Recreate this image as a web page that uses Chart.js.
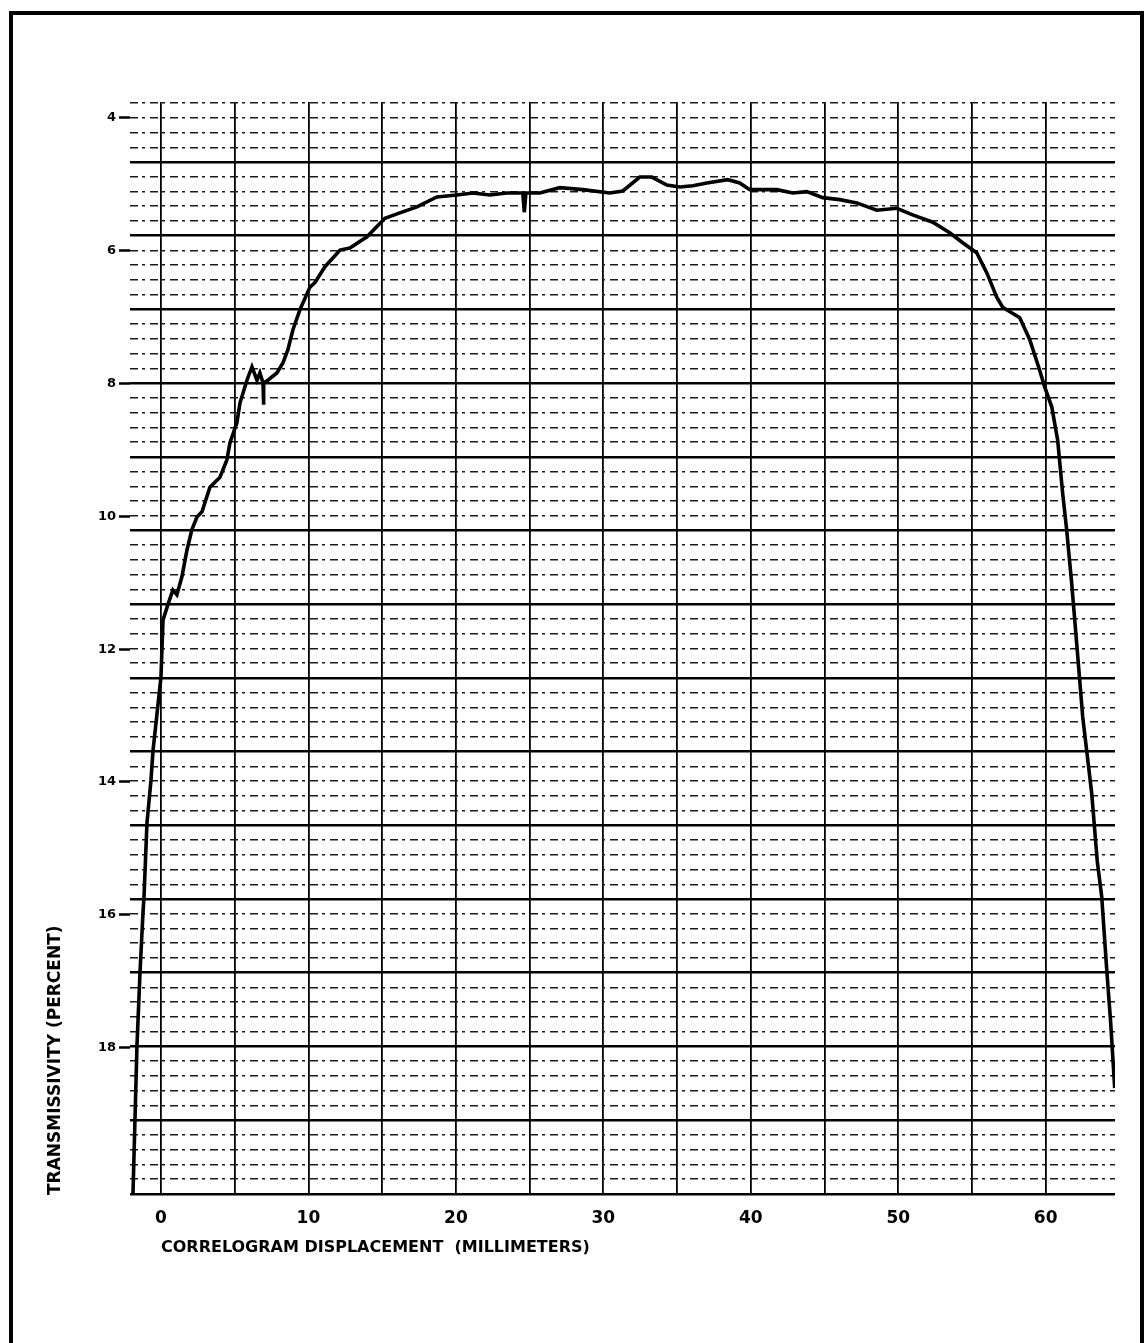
<!DOCTYPE html>
<html>
<head>
<meta charset="utf-8">
<script src="https://cdn.jsdelivr.net/npm/chart.js@4.4.1/dist/chart.umd.min.js"></script>
<style>
  html, body { margin: 0; padding: 0; background: #fff; overflow: hidden; }
  #wrap { position: relative; width: 1148px; height: 1343px; }
  #frame {
    position: absolute; left: 9px; top: 11px; width: 1127px; height: 1400px;
    border: 4px solid #000; pointer-events: none;
  }
</style>
</head>
<body>
<div id="wrap">
  <canvas id="graphTransmissivity"></canvas>
  <div id="frame"></div>
</div>
<script>
// recorder trace: displacement (mm) vs transmissivity (%)
var displacementMm = [
    -1.90, -1.63, -1.42, -1.22, -1.15, -0.95, -0.68, -0.54, 0.00, 0.07,
    0.14, 0.47, 0.81, 1.08, 1.42, 1.76, 2.10, 2.44, 2.78, 3.32,
    4.00, 4.47, 4.68, 5.15, 5.36, 5.83, 6.17, 6.51, 6.71, 6.92,
    6.95, 6.98, 7.25, 7.86, 8.27, 8.61, 8.95, 9.42, 10.10, 10.44,
    11.12, 11.66, 12.14, 12.81, 13.97, 15.19, 16.20, 17.36, 18.71, 20.07,
    21.15, 22.31, 23.46, 24.54, 24.64, 24.75, 25.69, 27.05, 28.61, 30.44,
    31.32, 32.47, 33.29, 34.31, 35.19, 36.07, 37.02, 38.44, 39.25, 39.93,
    41.76, 42.85, 43.80, 44.88, 46.03, 47.19, 48.54, 49.90, 50.98, 52.34,
    53.49, 54.37, 55.32, 56.00, 56.68, 57.08, 58.24, 58.92, 59.59, 59.93,
    60.41, 60.81, 61.15, 61.42, 61.76, 62.10, 62.51, 63.12, 63.50, 63.80,
    64.14, 64.40, 64.68
];
var transmissivityPct = [
    20.22, 17.99, 16.86, 15.97, 15.73, 14.62, 13.98, 13.53, 12.42, 11.98,
    11.56, 11.33, 11.11, 11.18, 10.91, 10.51, 10.20, 10.01, 9.93, 9.56,
    9.41, 9.15, 8.89, 8.59, 8.29, 7.95, 7.75, 7.95, 7.84, 7.99,
    8.32, 7.99, 7.95, 7.84, 7.69, 7.49, 7.19, 6.89, 6.55, 6.48,
    6.24, 6.11, 5.99, 5.96, 5.79, 5.51, 5.43, 5.34, 5.19, 5.16,
    5.13, 5.16, 5.13, 5.13, 5.42, 5.13, 5.13, 5.05, 5.08, 5.13,
    5.10, 4.89, 4.89, 5.01, 5.04, 5.02, 4.98, 4.93, 4.98, 5.08,
    5.08, 5.13, 5.11, 5.20, 5.23, 5.28, 5.39, 5.36, 5.46, 5.57,
    5.73, 5.88, 6.03, 6.33, 6.70, 6.85, 7.01, 7.34, 7.80, 8.05,
    8.35, 8.85, 9.65, 10.20, 11.00, 11.91, 13.02, 14.17, 15.20, 15.73,
    16.83, 17.60, 18.61
];
var xTickValues = [0, 10, 20, 30, 40, 50, 60];
var yTickValues = [4, 6, 8, 10, 12, 14, 16, 18];
var xTitle = 'CORRELOGRAM DISPLACEMENT  (MILLIMETERS)';
var yTitle = 'TRANSMISSIVITY (PERCENT)';

var FONT = '"DejaVu Sans", "Liberation Sans", sans-serif';
var X_MIN = -2.1, X_MAX = 64.7;
var Y_MIN = 3.76, Y_MAX = 20.22;
// chart paper rulings, counted in small divisions from the first heavy line
var PAPER_MIN = -4.07, PAPER_MAX = 70.08;

var hiddenFit = function (size) {
    return function (scale) {
        if (scale.isHorizontal()) scale.height = size; else scale.width = size;
    };
};

// axis captions: x caption starts at the zero mark, y caption sits on the bottom
var axisCaptions = {
    id: 'axisCaptions',
    afterDraw: function (chart) {
        var ctx = chart.ctx, area = chart.chartArea;
        ctx.save();
        ctx.fillStyle = '#000';
        ctx.textBaseline = 'middle';
        ctx.textAlign = 'left';
        ctx.font = 'bold 16px ' + FONT;
        ctx.fillText(xTitle, chart.scales.x.getPixelForValue(0), area.bottom + 53);
        ctx.translate(56, area.bottom);
        ctx.rotate(-Math.PI / 2);
        ctx.font = 'bold 17px ' + FONT;
        ctx.fillText(yTitle, 0, 0);
        ctx.restore();
    }
};

var graphTransmissivity = document.getElementById('graphTransmissivity').getContext('2d');
new Chart(graphTransmissivity, {
    type: 'line',
    data: {
        datasets: [
            {
                data: displacementMm.map(function (x, i) { return {x: x, y: transmissivityPct[i]}; }),
                borderColor: '#000',
                borderWidth: 3.6,
                pointRadius: 0,
                tension: 0,
                fill: false
            }
        ]
    },
    options: {
        responsive: true,
        maintainAspectRatio: false,
        animation: false,
        layout: {
            padding: {left: 0, right: 33, top: 102, bottom: 0}
        },
        plugins: {
            legend: {display: false},
            tooltip: {enabled: false}
        },
        scales: {
            x: {
                type: 'linear',
                position: 'bottom',
                min: X_MIN,
                max: X_MAX,
                afterBuildTicks: function (scale) {
                    scale.ticks = xTickValues.map(function (v) { return {value: v}; });
                },
                ticks: {
                    color: '#000',
                    font: {family: FONT, size: 17, weight: 'bold'},
                    padding: 5,
                    maxRotation: 0
                },
                grid: {display: false},
                border: {display: false},
                afterFit: hiddenFit(148)
            },
            y: {
                type: 'linear',
                position: 'left',
                reverse: true,
                min: Y_MIN,
                max: Y_MAX,
                afterBuildTicks: function (scale) {
                    scale.ticks = yTickValues.map(function (v) { return {value: v}; });
                },
                ticks: {
                    color: '#000',
                    font: {family: FONT, size: 13, weight: 'bold'},
                    padding: 3
                },
                grid: {
                    drawOnChartArea: false,
                    drawTicks: true,
                    tickLength: 11,
                    tickWidth: 2.5,
                    tickColor: '#000'
                },
                border: {display: false},
                afterFit: hiddenFit(130)
            },
            paperX: {
                type: 'linear',
                position: 'top',
                min: X_MIN,
                max: X_MAX,
                ticks: {display: false, stepSize: 5, includeBounds: false, maxTicksLimit: 200},
                grid: {color: '#000', lineWidth: 1.8, drawTicks: false},
                border: {display: false},
                afterFit: hiddenFit(0)
            },
            paperMinor: {
                type: 'linear',
                position: 'right',
                reverse: true,
                min: PAPER_MIN,
                max: PAPER_MAX,
                ticks: {display: false, stepSize: 1, includeBounds: false, maxTicksLimit: 200},
                grid: {
                    color: function (c) { return c.tick && c.tick.value % 5 === 0 ? 'rgba(0,0,0,0)' : '#1a1a1a'; },
                    lineWidth: 1.5,
                    drawTicks: false
                },
                border: {display: false, dash: [8, 4, 3, 5]},
                afterFit: hiddenFit(0)
            },
            paperMajor: {
                type: 'linear',
                position: 'right',
                reverse: true,
                min: PAPER_MIN,
                max: PAPER_MAX,
                ticks: {display: false, stepSize: 5, includeBounds: false, maxTicksLimit: 200},
                grid: {color: '#000', lineWidth: 2.6, drawTicks: false},
                border: {display: false},
                afterFit: hiddenFit(0)
            }
        }
    },
    plugins: [axisCaptions]
});
</script>
</body>
</html>
